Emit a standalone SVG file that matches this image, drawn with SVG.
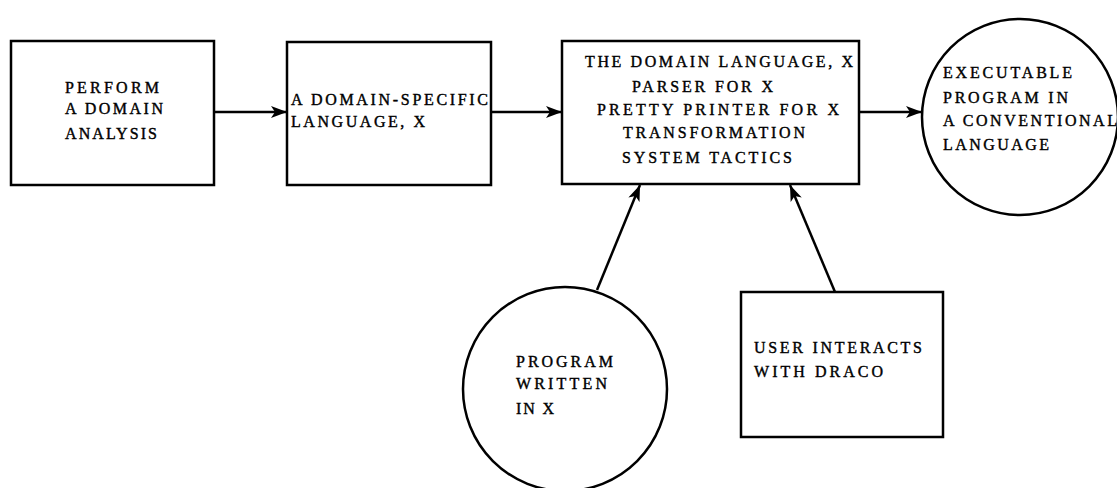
<svg xmlns="http://www.w3.org/2000/svg" width="1117" height="488" viewBox="0 0 1117 488">
<style>
.shape{fill:#fff;stroke:#000;stroke-width:2.5}
.conn{stroke:#000;stroke-width:2.5;fill:none}
text{font-family:"Liberation Serif","DejaVu Serif",serif;font-size:16px;fill:#000;stroke:#000;stroke-width:0.4px}
</style>
<defs>
<marker id="arr" markerUnits="userSpaceOnUse" markerWidth="18" markerHeight="14" refX="16" refY="6" orient="auto">
<path d="M0,0 L16,6 L0,12 L4,6 z" fill="#000"/>
</marker>
</defs>
<rect width="1117" height="488" fill="#fff"/>
<g id="connectors">
<line class="conn" x1="214" y1="112" x2="287" y2="112" marker-end="url(#arr)"/>
<line class="conn" x1="491" y1="112" x2="562" y2="112" marker-end="url(#arr)"/>
<line class="conn" x1="859" y1="112" x2="922" y2="112" marker-end="url(#arr)"/>
<line class="conn" x1="597" y1="290" x2="640" y2="185" marker-end="url(#arr)"/>
<line class="conn" x1="835" y1="292" x2="790" y2="185" marker-end="url(#arr)"/>
</g>
<g id="n1">
<rect class="shape" x="11" y="41" width="203" height="144"/>
<text x="65" y="93" textLength="94" lengthAdjust="spacing">PERFORM</text>
<text x="65" y="114" textLength="98" lengthAdjust="spacing">A DOMAIN</text>
<text x="65" y="139" textLength="92" lengthAdjust="spacing">ANALYSIS</text>
</g>
<g id="n2">
<rect class="shape" x="287" y="42" width="204" height="143"/>
<text x="291" y="105" textLength="197" lengthAdjust="spacing">A DOMAIN-SPECIFIC</text>
<text x="291" y="127" textLength="134" lengthAdjust="spacing">LANGUAGE, X</text>
</g>
<g id="n3">
<rect class="shape" x="562" y="41" width="297" height="143"/>
<text x="585" y="67" textLength="268" lengthAdjust="spacing">THE DOMAIN LANGUAGE, X</text>
<text x="632" y="92" textLength="141" lengthAdjust="spacing">PARSER FOR X</text>
<text x="597" y="115" textLength="242" lengthAdjust="spacing">PRETTY PRINTER FOR X</text>
<text x="623" y="138" textLength="182" lengthAdjust="spacing">TRANSFORMATION</text>
<text x="622" y="163" textLength="170" lengthAdjust="spacing">SYSTEM TACTICS</text>
</g>
<g id="n4">
<circle class="shape" cx="1020" cy="117" r="98"/>
<text x="943" y="78" textLength="129" lengthAdjust="spacing">EXECUTABLE</text>
<text x="943" y="103" textLength="125" lengthAdjust="spacing">PROGRAM IN</text>
<text x="943" y="126" textLength="174" lengthAdjust="spacing">A CONVENTIONAL</text>
<text x="943" y="150" textLength="106" lengthAdjust="spacing">LANGUAGE</text>
</g>
<g id="n5">
<circle class="shape" cx="565" cy="389" r="102"/>
<text x="516" y="367" textLength="97" lengthAdjust="spacing">PROGRAM</text>
<text x="516" y="389" textLength="91" lengthAdjust="spacing">WRITTEN</text>
<text x="516" y="414" textLength="38" lengthAdjust="spacing">IN X</text>
</g>
<g id="n6">
<rect class="shape" x="741" y="292" width="202" height="145"/>
<text x="754" y="353" textLength="168" lengthAdjust="spacing">USER INTERACTS</text>
<text x="754" y="377" textLength="129" lengthAdjust="spacing">WITH DRACO</text>
</g>
</svg>
